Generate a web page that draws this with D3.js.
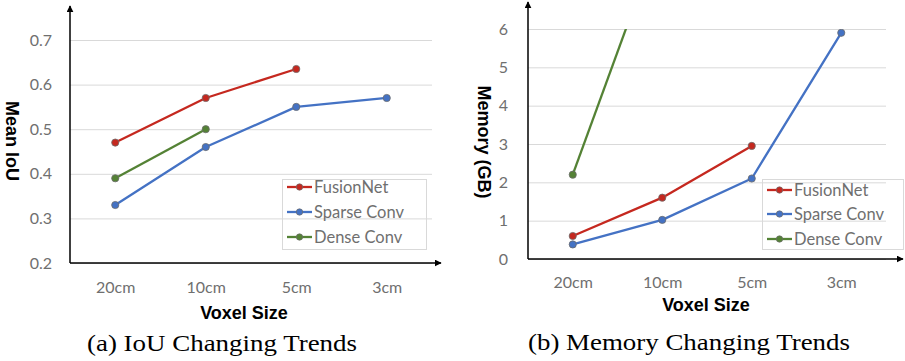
<!DOCTYPE html>
<html>
<head>
<meta charset="utf-8">
<script src="https://cdn.jsdelivr.net/npm/d3@7/dist/d3.min.js"></script>
<style>
  html, body { margin: 0; padding: 0; background: #fff; }
  svg { display: block; }
</style>
</head>
<body>
<svg id="chart" width="905" height="361"></svg>
<script>
// ---------------- data ----------------
const categories = ["20cm", "10cm", "5cm", "3cm"];
const seriesNames = ["FusionNet", "Sparse Conv", "Dense Conv"];
const seriesColors = ["#c5281f", "#4472c4", "#548235"];

const iouFusion = [0.47, 0.57, 0.635, null];
const iouSparse = [0.33, 0.46, 0.55, 0.57];
const iouDense  = [0.39, 0.50, null, null];
const iouTicks  = [0.2, 0.3, 0.4, 0.5, 0.6, 0.7];

const memFusion = [0.6, 1.6, 2.95, null];
const memSparse = [0.38, 1.02, 2.1, 5.9];
const memDense  = [2.2, 8.6, null, null];
const memTicks  = [0, 1, 2, 3, 4, 5, 6];

const xTitle = "Voxel Size";

// ---------------- layout ----------------
const panels = [
  {
    series: [iouFusion, iouSparse, iouDense],
    ticks: iouTicks, domain: [0.2, 0.7], fmt: d3.format(".1f"),
    x0: 70, x1: 432, yBottom: 263, yTop: 40, arrowTop: 6, arrowRight: 441,
    tickLabelX: 52, xLabelY: 287, xTitleX: 244, xTitleY: 313,
    yTitle: "Mean IoU", yTitleX: 12, yTitleY: 141,
    caption: "(a) IoU Changing Trends", capX: 222, capY: 343, capW: 270,
    legend: { x: 282, y: 179, w: 144, h: 70, rows: [187, 212, 237], lx: 287 }
  },
  {
    series: [memFusion, memSparse, memDense],
    ticks: memTicks, domain: [0, 6], fmt: d3.format("d"),
    x0: 528, x1: 886, yBottom: 259, yTop: 29, arrowTop: 2, arrowRight: 903,
    tickLabelX: 508, xLabelY: 282, xTitleX: 706, xTitleY: 305,
    yTitle: "Memory (GB)", yTitleX: 484, yTitleY: 142,
    caption: "(b) Memory Changing Trends", capX: 689, capY: 342, capW: 322,
    legend: { x: 762, y: 179, w: 141, h: 70, rows: [190, 214, 239], lx: 767 }
  }
];

const svg = d3.select("#chart");
const defs = svg.append("defs");
defs.append("marker")
  .attr("id", "arrow")
  .attr("viewBox", "0 0 10 10")
  .attr("refX", 9).attr("refY", 5)
  .attr("markerWidth", 7).attr("markerHeight", 7)
  .attr("markerUnits", "userSpaceOnUse")
  .attr("orient", "auto")
  .append("path").attr("d", "M0,0 L10,5 L0,10 Z").attr("fill", "#000");

const tickFont = "Lato, 'Open Sans', sans-serif";
const boldFont = "'Liberation Sans', Arial, sans-serif";

panels.forEach((p, pi) => {
  const x = d3.scalePoint().domain(categories).range([p.x0, p.x1]).padding(0.5);
  const y = d3.scaleLinear().domain(p.domain).range([p.yBottom, p.yTop]);

  const g = svg.append("g");

  // gridlines + y tick labels via axis
  const yAxis = d3.axisLeft(y).tickValues(p.ticks).tickFormat(p.fmt)
    .tickSize(-(p.x1 - p.x0)).tickPadding(p.x0 - p.tickLabelX);
  const ya = g.append("g").attr("transform", `translate(${p.x0},0)`).call(yAxis);
  ya.select(".domain").remove();
  ya.selectAll(".tick line").attr("stroke", "#d9d9d9").attr("stroke-width", 1);
  ya.selectAll(".tick text").attr("fill", "#6f6f6f")
    .style("font-family", tickFont).style("font-size", "16px");

  // x tick labels via axis
  const xAxis = d3.axisBottom(x).tickSize(0).tickPadding(0);
  const xa = g.append("g").attr("transform", `translate(0,${p.xLabelY})`).call(xAxis);
  xa.select(".domain").remove();
  xa.selectAll(".tick text").attr("fill", "#6f6f6f").attr("dy", "0.35em")
    .style("font-family", tickFont).style("font-size", "16px");

  // axes lines with arrows
  g.append("line").attr("x1", p.x0).attr("x2", p.x0)
    .attr("y1", p.yBottom).attr("y2", p.arrowTop)
    .attr("stroke", "#000").attr("stroke-width", 1.5).attr("marker-end", "url(#arrow)");
  g.append("line").attr("x1", p.x0).attr("x2", p.arrowRight)
    .attr("y1", p.yBottom).attr("y2", p.yBottom)
    .attr("stroke", "#000").attr("stroke-width", 1.5).attr("marker-end", "url(#arrow)");

  // clip to plot area
  const clipId = "clip" + pi;
  defs.append("clipPath").attr("id", clipId).append("rect")
    .attr("x", p.x0).attr("y", p.yTop)
    .attr("width", p.x1 - p.x0 + 20).attr("height", p.yBottom - p.yTop);

  const plot = g.append("g").attr("clip-path", `url(#${clipId})`);
  const line = d3.line()
    .defined(d => d.v != null)
    .x(d => x(d.c)).y(d => y(d.v));

  p.series.forEach((vals, si) => {
    const data = vals.map((v, i) => ({ c: categories[i], v }));
    plot.append("path").datum(data)
      .attr("fill", "none").attr("stroke", seriesColors[si])
      .attr("stroke-width", 2.3).attr("stroke-linejoin", "round")
      .attr("d", line);
    plot.selectAll(null).data(data.filter(d => d.v != null && d.v <= p.domain[1]))
      .enter().append("circle")
      .attr("cx", d => x(d.c)).attr("cy", d => y(d.v)).attr("r", 3.6)
      .attr("fill", seriesColors[si]).attr("stroke", "#6b6b6b").attr("stroke-width", 0.8);
  });

  // axis titles
  g.append("text").attr("x", p.xTitleX).attr("y", p.xTitleY).attr("dy", "0.35em")
    .attr("text-anchor", "middle").attr("fill", "#000")
    .style("font-family", boldFont).style("font-weight", "bold").style("font-size", "18px")
    .text(xTitle);
  g.append("text")
    .attr("transform", `translate(${p.yTitleX},${p.yTitleY}) rotate(90)`)
    .attr("dy", "0.35em").attr("text-anchor", "middle").attr("fill", "#000")
    .style("font-family", boldFont).style("font-weight", "bold").style("font-size", "18px")
    .text(p.yTitle);

  // legend
  const L = p.legend;
  const lg = g.append("g");
  lg.append("rect").attr("x", L.x + 0.5).attr("y", L.y + 0.5)
    .attr("width", L.w).attr("height", L.h)
    .attr("fill", "none").attr("stroke", "#d9d9d9").attr("stroke-width", 1);
  seriesNames.forEach((name, si) => {
    const ry = L.rows[si];
    lg.append("line").attr("x1", L.lx).attr("x2", L.lx + 25)
      .attr("y1", ry).attr("y2", ry)
      .attr("stroke", seriesColors[si]).attr("stroke-width", 2.3);
    lg.append("circle").attr("cx", L.lx + 12.5).attr("cy", ry).attr("r", 3.2)
      .attr("fill", seriesColors[si]).attr("stroke", "#6b6b6b").attr("stroke-width", 0.7);
    lg.append("text").attr("x", L.lx + 27).attr("y", ry).attr("dy", "0.35em")
      .attr("fill", "#6f6f6f").style("font-family", tickFont).style("font-size", "16.5px")
      .text(name);
  });

  // caption
  g.append("text").attr("x", p.capX).attr("y", p.capY).attr("dy", "0.35em")
    .attr("text-anchor", "middle").attr("fill", "#000")
    .attr("textLength", p.capW).attr("lengthAdjust", "spacingAndGlyphs")
    .style("font-family", "'Liberation Serif', 'Times New Roman', serif")
    .style("font-size", "23px")
    .text(p.caption);
});
</script>
</body>
</html>
